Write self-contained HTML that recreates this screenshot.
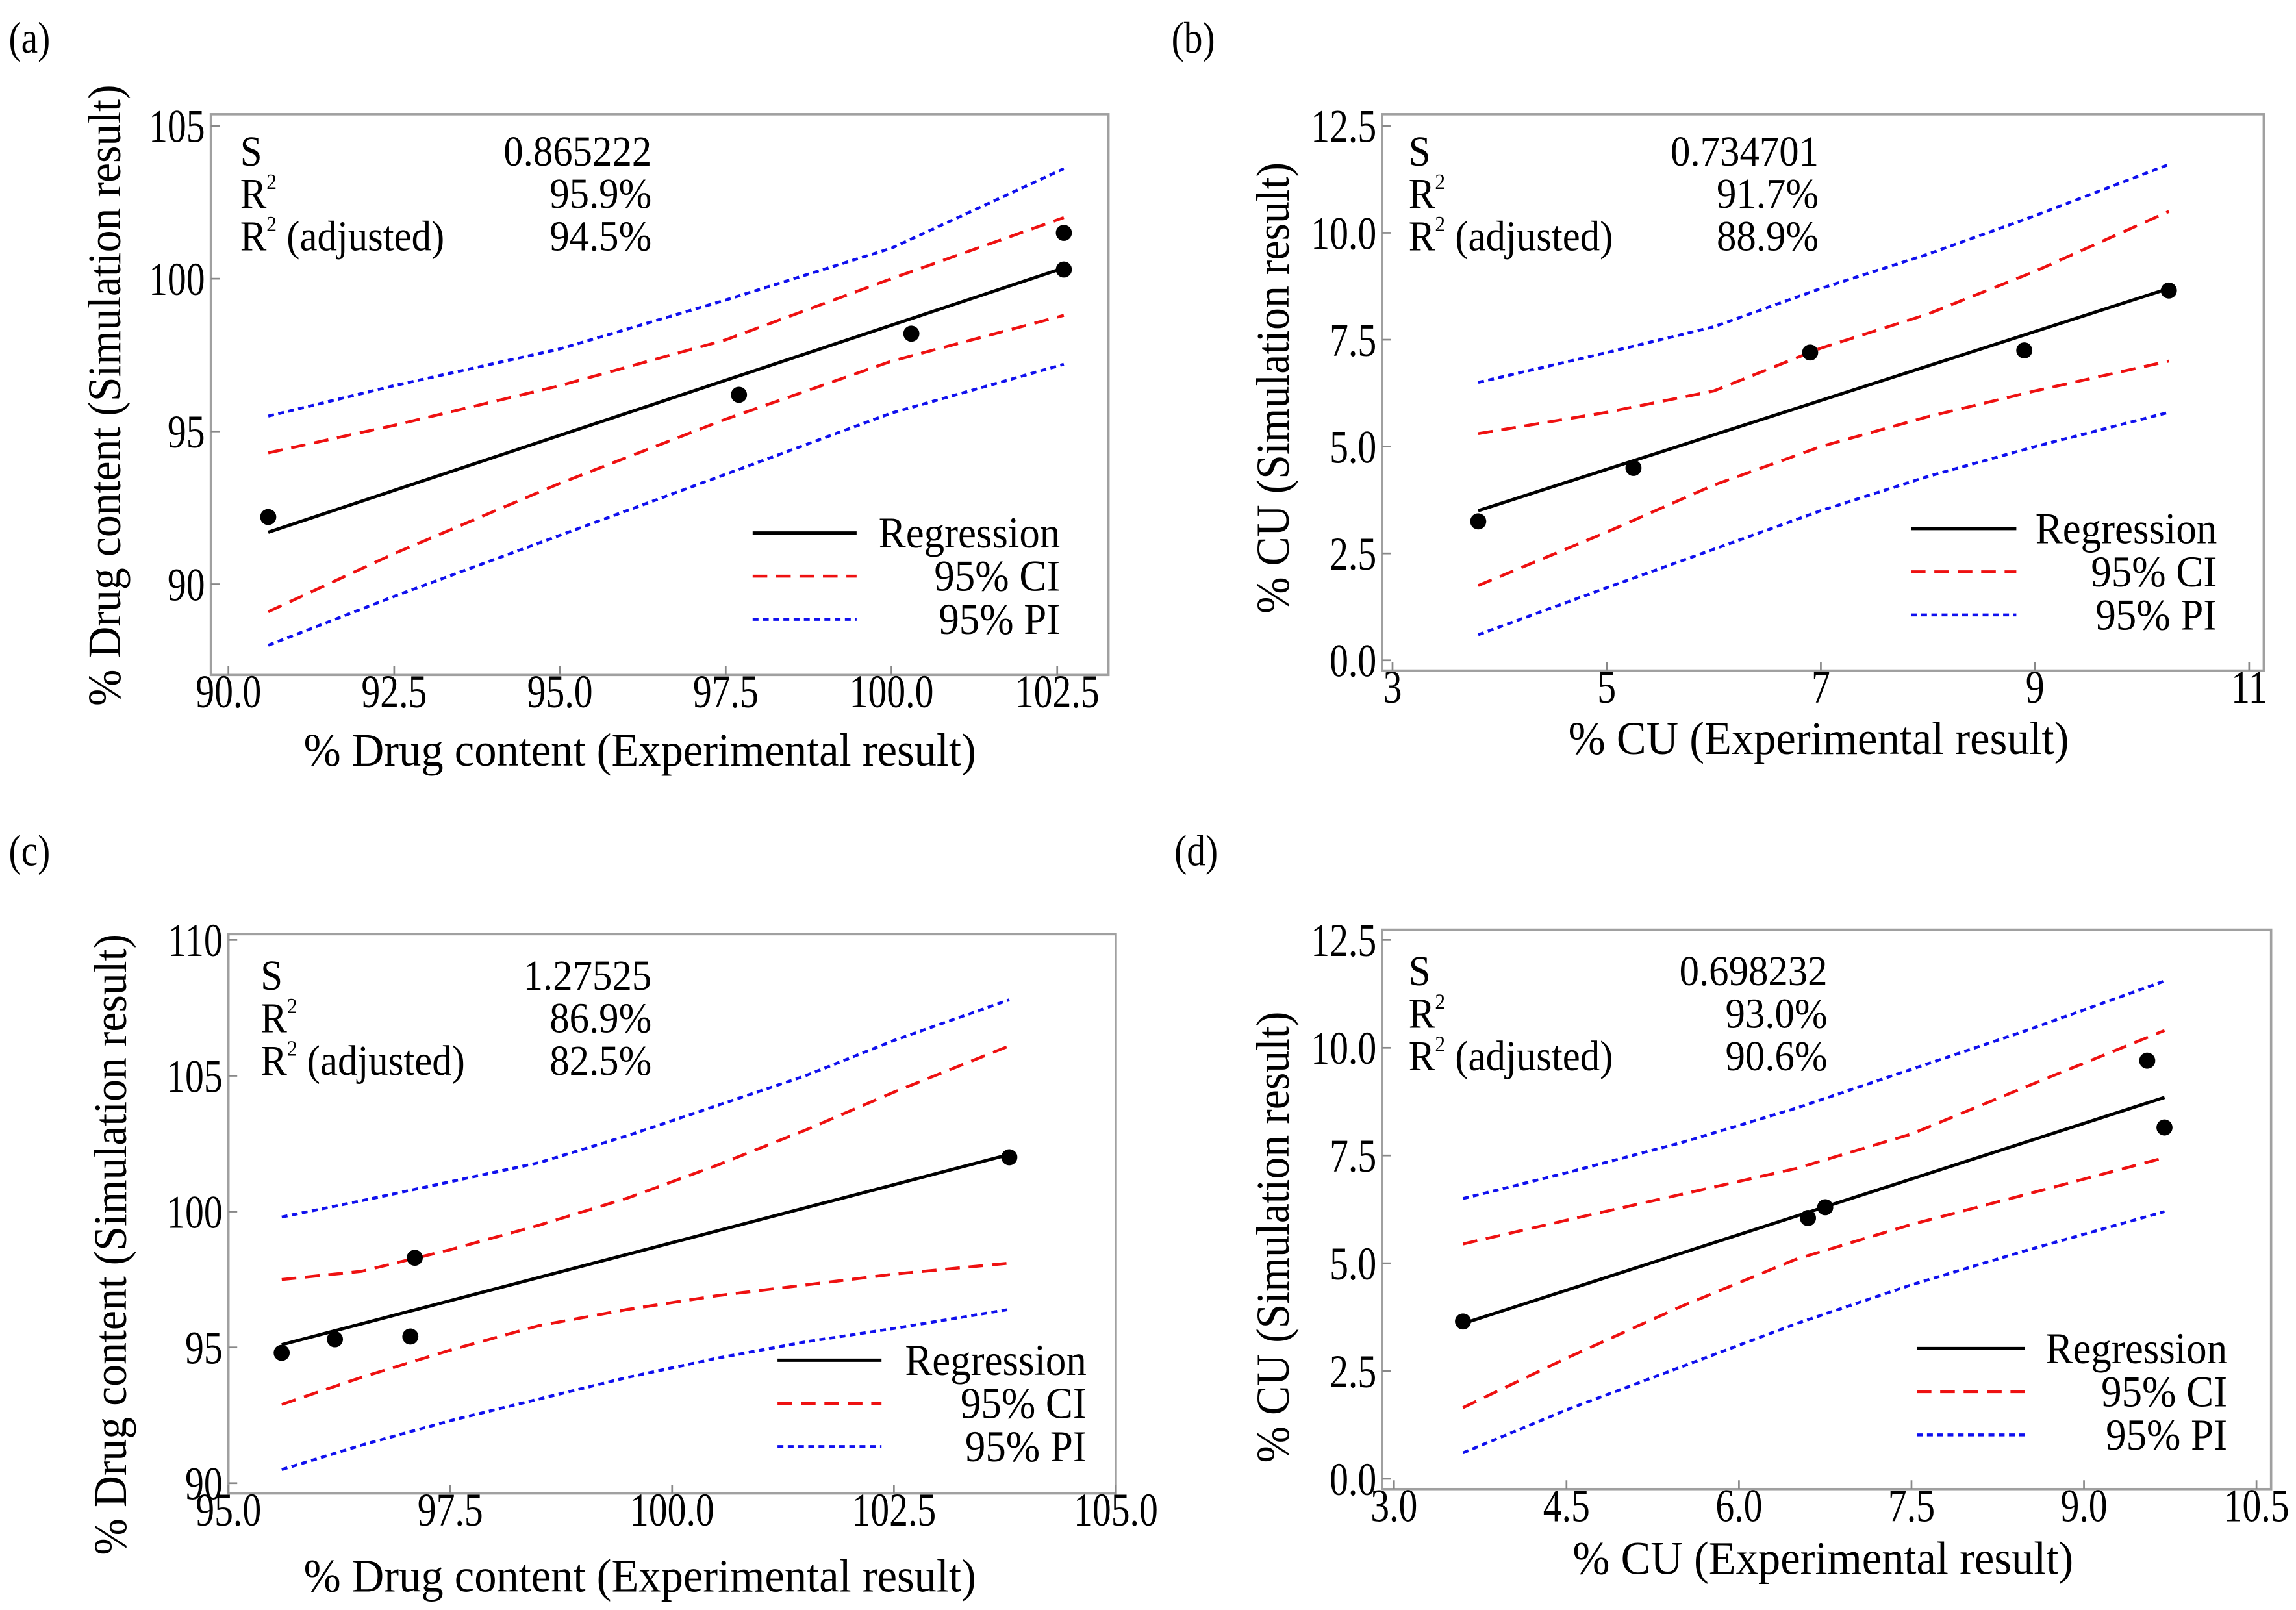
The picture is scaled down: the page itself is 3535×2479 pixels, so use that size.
<!DOCTYPE html>
<html><head><meta charset="utf-8"><style>
html,body{margin:0;padding:0;background:#fff;}
svg{display:block;font-family:"Liberation Serif",serif;}
</style></head><body>
<svg id="fig" width="3535" height="2479" viewBox="0 0 1568 1099.6" preserveAspectRatio="none" xmlns="http://www.w3.org/2000/svg"></svg>
<script>
// ---------- Panel (a) data ----------
const aPointsX = [90.6, 97.7, 100.3, 102.6, 102.6];
const aPointsY = [92.2, 96.2, 98.2, 101.5, 100.3];
const aRegX = [90.6, 102.6];
const aRegY = [91.7, 100.35];
const aBandX = [90.6, 92.5, 95, 97.5, 100, 102.6];
const aCIUp = [94.3, 95.2, 96.5, 98.0, 100.0, 102.0];
const aCILo = [89.1, 91.0, 93.3, 95.4, 97.3, 98.8];
const aPIUp = [95.5, 96.5, 97.7, 99.3, 101.0, 103.6];
const aPILo = [88.0, 89.6, 91.6, 93.6, 95.6, 97.2];
const aXTicks = [90.0, 92.5, 95.0, 97.5, 100.0, 102.5];
const aXTickLabels = ["90.0","92.5","95.0","97.5","100.0","102.5"];
const aYTicks = [90, 95, 100, 105];
const aYTickLabels = ["90","95","100","105"];
const aStats = ["0.865222","95.9%","94.5%"];
// ---------- Panel (b) data ----------
const bPointsX = [3.8, 5.25, 6.9, 8.9, 10.25];
const bPointsY = [3.25, 4.5, 7.2, 7.25, 8.65];
const bRegX = [3.8, 10.25];
const bRegY = [3.5, 8.7];
const bBandX = [3.8, 5, 6, 7, 8, 9, 10.25];
const bCIUp = [5.3, 5.8, 6.3, 7.3, 8.1, 9.1, 10.5];
const bCILo = [1.75, 3.0, 4.1, 5.0, 5.7, 6.3, 7.0];
const bPIUp = [6.5, 7.2, 7.8, 8.7, 9.5, 10.4, 11.6];
const bPILo = [0.6, 1.7, 2.6, 3.5, 4.3, 5.0, 5.8];
const bXTicks = [3, 5, 7, 9, 11];
const bXTickLabels = ["3","5","7","9","11"];
const bYTicks = [0, 2.5, 5, 7.5, 10, 12.5];
const bYTickLabels = ["0.0","2.5","5.0","7.5","10.0","12.5"];
const bStats = ["0.734701","91.7%","88.9%"];
// ---------- Panel (c) data ----------
const cPointsX = [95.6, 96.2, 97.1, 97.05, 103.8];
const cPointsY = [94.8, 95.3, 98.3, 95.4, 102.0];
const cRegX = [95.6, 103.8];
const cRegY = [95.1, 102.1];
const cBandX = [95.6, 96.5, 97.5, 98.5, 99.5, 100.5, 101.5, 102.5, 103.8];
const cCIUp = [97.5, 97.8, 98.6, 99.5, 100.5, 101.7, 103.0, 104.4, 106.1];
const cCILo = [92.9, 93.9, 94.9, 95.8, 96.4, 96.9, 97.3, 97.7, 98.1];
const cPIUp = [99.8, 100.4, 101.1, 101.8, 102.8, 103.9, 105.0, 106.3, 107.8];
const cPILo = [90.5, 91.4, 92.3, 93.1, 93.9, 94.6, 95.2, 95.7, 96.4];
const cXTicks = [95.0, 97.5, 100.0, 102.5, 105.0];
const cXTickLabels = ["95.0","97.5","100.0","102.5","105.0"];
const cYTicks = [90, 95, 100, 105, 110];
const cYTickLabels = ["90","95","100","105","110"];
const cStats = ["1.27525","86.9%","82.5%"];
// ---------- Panel (d) data ----------
const dPointsX = [3.6, 6.6, 6.75, 9.55, 9.7];
const dPointsY = [3.65, 6.05, 6.3, 9.7, 8.15];
const dRegX = [3.6, 9.7];
const dRegY = [3.6, 8.85];
const dBandX = [3.6, 4.5, 5.5, 6.5, 7.5, 8.5, 9.7];
const dCIUp = [5.45, 6.0, 6.6, 7.2, 8.0, 9.1, 10.4];
const dCILo = [1.65, 2.8, 4.0, 5.1, 5.9, 6.6, 7.45];
const dPIUp = [6.5, 7.1, 7.8, 8.6, 9.5, 10.4, 11.55];
const dPILo = [0.6, 1.6, 2.6, 3.6, 4.5, 5.3, 6.2];
const dXTicks = [3.0, 4.5, 6.0, 7.5, 9.0, 10.5];
const dXTickLabels = ["3.0","4.5","6.0","7.5","9.0","10.5"];
const dYTicks = [0, 2.5, 5, 7.5, 10, 12.5];
const dYTickLabels = ["0.0","2.5","5.0","7.5","10.0","12.5"];
const dStats = ["0.698232","93.0%","90.6%"];

const NS = "http://www.w3.org/2000/svg";
const fig = document.getElementById('fig');
function mk(tag, parent, attrs){ const e=document.createElementNS(NS,tag); for(const k in attrs) e.setAttribute(k,attrs[k]); parent.appendChild(e); return e; }
function txt(parent, x, y, s, size, sc, anchor){
  const t=mk('text',parent,{x:0,y:0,'font-size':size,'text-anchor':anchor||'start',fill:'#000',
    transform:'translate('+x+','+y+') scale('+sc+',1)'});
  t.textContent=s; return t;
}

function panel(cfg){
  const g = mk('g', fig, {});
  
  
  const L=cfg.box[0], R=cfg.box[1], T=cfg.box[2], B=cfg.box[3];
  const sx = v => cfg.xm[1] + (v - cfg.xm[0]) * (cfg.xm[3]-cfg.xm[1])/(cfg.xm[2]-cfg.xm[0]);
  const sy = v => cfg.ym[1] + (v - cfg.ym[0]) * (cfg.ym[3]-cfg.ym[1])/(cfg.ym[2]-cfg.ym[0]);
  const lab = txt(g, cfg.lab[0], cfg.lab[1], '(' + cfg.id + ')', 30, 0.85);
  
  
  const frame = mk('rect', g, {x:L,y:T,width:R-L,height:B-T,fill:'none',stroke:'#a0a0a0','stroke-width':1.6});
  
  
  cfg.xt.forEach((v,i)=>{
    const x=sx(v);
    const tk=mk('line',g,{x1:x,x2:x,y1:B,y2:B-6,stroke:'#888','stroke-width':1.2});
    
    
    const t=txt(g,x,B+22,cfg.xtl[i],32,0.8,'middle');
    
    
  });
  cfg.yt.forEach((v,i)=>{
    const y=sy(v);
    const tk=mk('line',g,{x1:L,x2:L+6,y1:y,y2:y,stroke:'#888','stroke-width':1.2});
    
    
    const t=txt(g,L-4,y+11,cfg.ytl[i],32,0.8,'end');
    
    
  });
  const xl=txt(g,cfg.xl[0],cfg.xl[1],cfg.xlabel,32,0.95,'middle');
  
  
  const yl=mk('text',g,{x:0,y:0,'font-size':32,'text-anchor':'middle',fill:'#000',
    transform:'translate('+cfg.yl[0]+','+cfg.yl[1]+') rotate(-90) scale(0.94,1)'});
  yl.textContent=cfg.ylabel;
  
  
  const pathOf=(xs,ys)=>xs.map((v,i)=>(i?'L':'M')+sx(v).toFixed(1)+' '+sy(ys[i]).toFixed(1)).join(' ');
  const bands=[[cfg.piU,'#1010ee','4 3','pi-upper'],[cfg.piL,'#1010ee','4 3','pi-lower'],[cfg.ciU,'#ee1111','10 6','ci-upper'],[cfg.ciL,'#ee1111','10 6','ci-lower']];
  bands.forEach(b=>{
    const p=mk('path',g,{d:pathOf(cfg.bx,b[0]),fill:'none',stroke:b[1],'stroke-width':2,'stroke-dasharray':b[2]});
    
    
  });
  const reg=mk('path',g,{d:pathOf(cfg.rx,cfg.ry),fill:'none',stroke:'#000','stroke-width':2.2});
  
  
  cfg.px.forEach((v,i)=>{
    const c=mk('circle',g,{cx:sx(v),cy:sy(cfg.py[i]),r:5.5,fill:'#000'});
    
    
  });
  const sl=L+cfg.st[0], sr=L+cfg.st[1], st0=T+cfg.st[2];
  const names=['S','R','R'];
  const stg=mk('g',g,{});
  
  
  [0,1,2].forEach(i=>{
    const y=st0+i*29;
    const t=txt(stg,sl,y,names[i],29,0.93);
    if(i>0){
      const s=mk('tspan',t,{dy:-13,'font-size':15}); s.textContent='2';
      if(i===2){ const s2=mk('tspan',t,{dy:13,'font-size':29}); s2.textContent=' (adjusted)'; }
    }
    txt(stg,sr,y,cfg.stats[i],29,0.93,'end');
  });
  const lg=mk('g',g,{});
  
  
  const items=[['Regression','#000',null,2.2],['95% CI','#ee1111','10 6',2],['95% PI','#1010ee','4 3',2]];
  items.forEach((it,i)=>{
    const y=B+cfg.lg[2]+i*29.5;
    const ln=mk('line',lg,{x1:R+cfg.lg[0],x2:R+cfg.lg[1],y1:y,y2:y,stroke:it[1],'stroke-width':it[3]});
    if(it[2]) ln.setAttribute('stroke-dasharray',it[2]);
    
    
    const t=txt(lg,R+cfg.lg[3],y+10,it[0],30,0.93,'end');
    
    
  });
}

panel({id:'a',lab:[6,36],box:[144,757,78,461],xm:[90,156,102.5,722],ym:[90,399,105,86],
  xt:aXTicks,xtl:aXTickLabels,yt:aYTicks,ytl:aYTickLabels,
  xl:[437,523],xlabel:'% Drug content (Experimental result)',yl:[82,270],ylabel:'% Drug content (Simulation result)',
  px:aPointsX,py:aPointsY,rx:aRegX,ry:aRegY,bx:aBandX,ciU:aCIUp,ciL:aCILo,piU:aPIUp,piL:aPILo,
  st:[20,301,35],stats:aStats,lg:[-243,-172,-97,-33]});
panel({id:'b',lab:[800,36],box:[944,1546,78,458],xm:[3,951,11,1536],ym:[0,451,12.5,86],
  xt:bXTicks,xtl:bXTickLabels,yt:bYTicks,ytl:bYTickLabels,
  xl:[1242,515],xlabel:'% CU (Experimental result)',yl:[880,265],ylabel:'% CU (Simulation result)',
  px:bPointsX,py:bPointsY,rx:bRegX,ry:bRegY,bx:bBandX,ciU:bCIUp,ciL:bCILo,piU:bPIUp,piL:bPILo,
  st:[18,298,35],stats:bStats,lg:[-241,-169,-97,-32]});
panel({id:'c',lab:[6,591],box:[156,762,638,1020],xm:[95,156,105,762],ym:[90,1013,110,642],
  xt:cXTicks,xtl:cXTickLabels,yt:cYTicks,ytl:cYTickLabels,
  xl:[437,1087],xlabel:'% Drug content (Experimental result)',yl:[86,850],ylabel:'% Drug content (Simulation result)',
  px:cPointsX,py:cPointsY,rx:cRegX,ry:cRegY,bx:cBandX,ciU:cCIUp,ciL:cCILo,piU:cPIUp,piL:cPILo,
  st:[22,289,38],stats:cStats,lg:[-231,-160,-91,-20]});
panel({id:'d',lab:[802,591],box:[944,1551,635,1017],xm:[3,952,10.5,1541],ym:[0,1010,12.5,642],
  xt:dXTicks,xtl:dXTickLabels,yt:dYTicks,ytl:dYTickLabels,
  xl:[1245,1075],xlabel:'% CU (Experimental result)',yl:[880,845],ylabel:'% CU (Simulation result)',
  px:dPointsX,py:dPointsY,rx:dRegX,ry:dRegY,bx:dBandX,ciU:dCIUp,ciL:dCILo,piU:dPIUp,piL:dPILo,
  st:[18,304,38],stats:dStats,lg:[-242,-168,-96,-30]});
</script>
</body></html>
